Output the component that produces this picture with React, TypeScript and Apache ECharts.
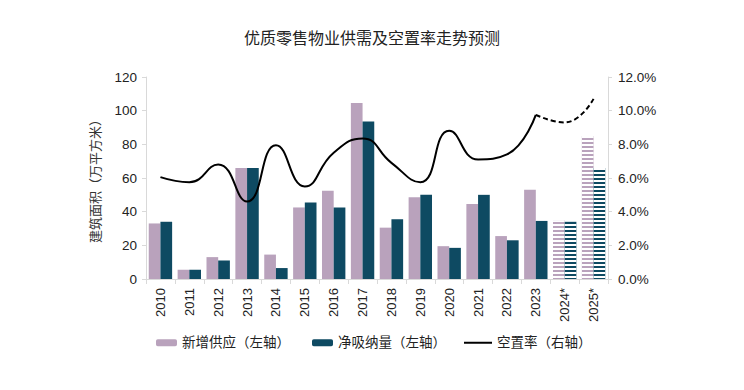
import React, { useEffect, useRef } from "react";
import * as echarts from "echarts";

const years = ["2010", "2011", "2012", "2013", "2014", "2015", "2016", "2017", "2018", "2019", "2020", "2021", "2022", "2023", "2024*", "2025*"];
const newSupply = [33, 5.5, 13, 66, 14.5, 42.5, 52.5, 104.5, 30.5, 48.5, 19.5, 44.5, 25.5, 53, 35, 85];
const netAbsorption = [34, 5.5, 11, 66, 6.5, 45.5, 42.5, 93.5, 35.5, 50, 18.5, 50, 23, 34.5, 34, 66];
const vacancyActual = [6.05, 5.75, 6.8, 4.6, 7.95, 5.5, 7.5, 8.35, 6.9, 5.75, 8.8, 7.1, 7.4, 9.75, null, null];
const vacancyForecast = [null, null, null, null, null, null, null, null, null, null, null, null, null, 9.75, 9.3, 10.7];
const forecastFrom = 14;
const leftTicks = { min: 0, max: 120, interval: 20 };
const rightTicks = { min: 0, max: 12, interval: 2 };
const legendNames = ["新增供应（左轴）", "净吸纳量（左轴）", "空置率（右轴）"];

const PINK = "#b9a2bc";
const TEAL = "#0e4a62";
const FONT = "'Liberation Sans', 'Noto Sans CJK SC', sans-serif";

const stripe = { symbol: "rect", symbolSize: 1, dashArrayX: [1, 0], dashArrayY: [1.5, 1.5], color: "#ffffff", rotation: 0 };

export default function App() {
  const ref = useRef<HTMLDivElement>(null);
  useEffect(() => {
    const chart = echarts.init(ref.current!, null, { renderer: "svg" });
    const barData = (arr: number[]) =>
      arr.map((v, i) => (i >= forecastFrom ? { value: v, itemStyle: { decal: stripe } } : v));
    const legendAt = (name: string, left: number) => ({
      data: [name],
      left,
      top: 336,
      padding: 0,
      itemWidth: 21,
      itemHeight: 7,
      textStyle: { fontSize: 13.5, color: "#222", fontFamily: FONT },
    });
    chart.setOption({
      animation: false,
      textStyle: { fontFamily: FONT },
      title: {
        text: "优质零售物业供需及空置率走势预测",
        left: "center",
        top: 25,
        textStyle: { fontSize: 16, fontWeight: "normal", color: "#222", fontFamily: FONT },
      },
      legend: [legendAt(legendNames[0], 156), legendAt(legendNames[1], 312), { ...legendAt(legendNames[2], 463), itemWidth: 28 }],
      grid: { left: 146, right: 136, top: 77, bottom: 111 },
      xAxis: {
        type: "category",
        data: years,
        axisLine: { lineStyle: { color: "#d9d9d9" } },
        axisTick: { show: true, lineStyle: { color: "#d9d9d9" } },
        axisLabel: { rotate: 90, fontSize: 13, color: "#222", margin: 9 },
      },
      yAxis: [
        {
          type: "value",
          ...leftTicks,
          name: "建筑面积（万平方米）",
          nameLocation: "middle",
          nameRotate: 90,
          nameGap: 44,
          nameTextStyle: { fontSize: 13, color: "#333", fontFamily: FONT },
          axisLine: { show: true, lineStyle: { color: "#d9d9d9" } },
          axisTick: { show: true, length: 4, lineStyle: { color: "#d9d9d9" } },
          splitLine: { show: false },
          axisLabel: { fontSize: 13.5, color: "#222", margin: 9 },
        },
        {
          type: "value",
          ...rightTicks,
          position: "right",
          axisLine: { show: true, lineStyle: { color: "#d9d9d9" } },
          axisTick: { show: true, length: 4, lineStyle: { color: "#d9d9d9" } },
          splitLine: { show: false },
          axisLabel: { fontSize: 13.5, color: "#222", margin: 10, formatter: (v: number) => v.toFixed(1) + "%" },
        },
      ],
      series: [
        {
          name: legendNames[0],
          type: "bar",
          data: barData(newSupply),
          barGap: "0%",
          barCategoryGap: "19%",
          itemStyle: { color: PINK },
        },
        {
          name: legendNames[1],
          type: "bar",
          data: barData(netAbsorption),
          itemStyle: { color: TEAL },
        },
        {
          name: legendNames[2],
          type: "line",
          yAxisIndex: 1,
          data: vacancyActual,
          smooth: 0.5,
          symbol: "none",
          lineStyle: { color: "#000", width: 2 },
          itemStyle: { color: "#000", opacity: 0 },
        },
        {
          name: "空置率预测",
          type: "line",
          yAxisIndex: 1,
          data: vacancyForecast,
          smooth: 0.5,
          symbol: "none",
          lineStyle: { color: "#000", width: 2, type: [5, 3] },
        },
      ],
    });
    return () => chart.dispose();
  }, []);
  return <div ref={ref} style={{ width: 744, height: 390, position: "absolute", left: 0, top: 0 }} />;
}
